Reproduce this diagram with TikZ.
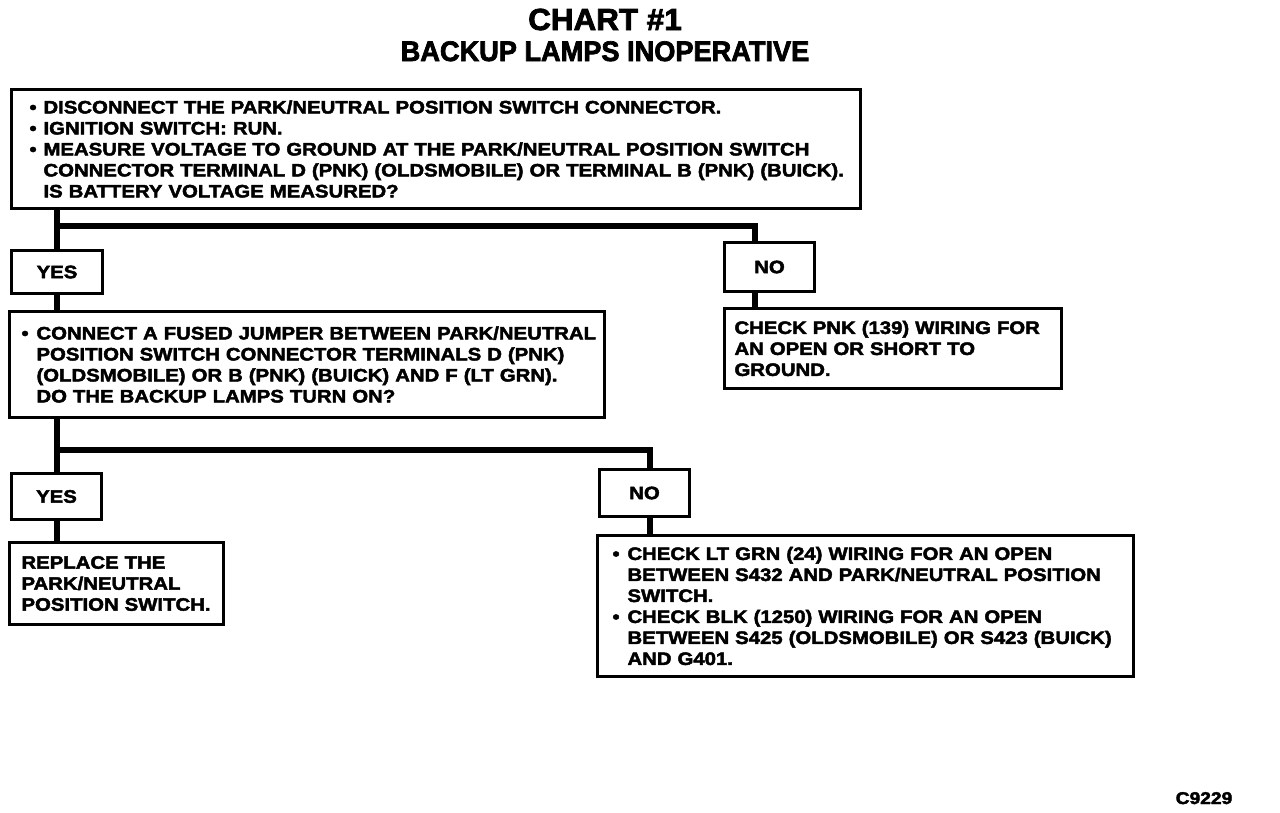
\documentclass[tikz,border=0pt]{standalone}
\usepackage{fontspec}
\setmainfont{Liberation Sans}
\newfontfamily\boxfam{Liberation Sans}[FakeStretch=1.13, FakeBold=2.5]
\newfontfamily\chartfam{Liberation Sans}[FakeStretch=1.03, FakeBold=2.5]
\newfontfamily\subfam{Liberation Sans}[FakeStretch=0.96, FakeBold=2.5]
\newcommand\boxfont{\boxfam\bfseries\fontsize{18}{21}\selectfont}
\newcommand\BulLine[2]{\makebox[#1][l]{•}\mbox{#2}}
\newcommand\IndLine[2]{\hspace*{#1}\mbox{#2}}
\tikzset{
  box/.style={draw, line width=3pt, rectangle, anchor=north west, align=left,
    inner ysep=0pt, font=\boxfont},
  ans/.style={draw, line width=3pt, rectangle, anchor=north west, inner sep=0pt,
    font=\boxfont},
  conn/.style={line width=6pt, line join=miter},
}
\begin{document}
\begin{tikzpicture}[x=1pt, y=-1pt]
\fill[white] (0,0) rectangle (1280,812);
\useasboundingbox (0,0) rectangle (1280,812);

% titles
\node[anchor=base, inner sep=0pt, font=\chartfam\bfseries\fontsize{30.5}{32}\selectfont] (title) at (605,30) {CHART \#1};
\node[anchor=base, inner sep=0pt, font=\subfam\bfseries\fontsize{28.3}{30}\selectfont] (subtitle) at (605,61) {BACKUP LAMPS INOPERATIVE};

% boxes
\node[box, minimum width=849pt, minimum height=119pt, inner xsep=18pt, text width=813pt] (box1) at (10,88) {%
\BulLine{14pt}{DISCONNECT THE PARK/NEUTRAL POSITION SWITCH CONNECTOR.}\\
\BulLine{14pt}{IGNITION SWITCH: RUN.}\\
\BulLine{14pt}{MEASURE VOLTAGE TO GROUND AT THE PARK/NEUTRAL POSITION SWITCH}\\
\IndLine{14pt}{CONNECTOR TERMINAL D (PNK) (OLDSMOBILE) OR TERMINAL B (PNK) (BUICK).}\\
\IndLine{14pt}{IS BATTERY VOLTAGE MEASURED?}};

\node[ans, minimum width=91pt, minimum height=43pt] (yes1) at (10,249) {};
\node[font=\boxfont, inner sep=0pt] (yes1t) at (yes1.center) {YES};
\node[ans, minimum width=90pt, minimum height=49pt] (no1) at (723,241) {};
\node[font=\boxfont, inner sep=0pt] (no1t) at (no1.center) {NO};

\node[box, minimum width=595pt, minimum height=106pt, inner xsep=12pt, text width=571pt] (box2) at (8,310) {%
\BulLine{15pt}{CONNECT A FUSED JUMPER BETWEEN PARK/NEUTRAL}\\
\IndLine{15pt}{POSITION SWITCH CONNECTOR TERMINALS D (PNK)}\\
\IndLine{15pt}{(OLDSMOBILE) OR B (PNK) (BUICK) AND F (LT GRN).}\\
\IndLine{15pt}{DO THE BACKUP LAMPS TURN ON?}};

\node[box, minimum width=337pt, minimum height=80pt, inner xsep=10pt, text width=317pt] (box3) at (723,307) {%
\mbox{CHECK PNK (139) WIRING FOR}\\
\mbox{AN OPEN OR SHORT TO}\\
\mbox{GROUND.}};

\node[ans, minimum width=90pt, minimum height=46pt] (yes2) at (10,472) {};
\node[font=\boxfont, inner sep=0pt] (yes2t) at (yes2.center) {YES};
\node[ans, minimum width=90pt, minimum height=47pt] (no2) at (598,468) {};
\node[font=\boxfont, inner sep=0pt] (no2t) at (no2.center) {NO};

\node[box, minimum width=214pt, minimum height=82pt, inner xsep=12pt, text width=190pt] (box4) at (8,541) {%
\mbox{REPLACE THE}\\
\mbox{PARK/NEUTRAL}\\
\mbox{POSITION SWITCH.}};

\node[box, minimum width=536pt, minimum height=141pt, inner xsep=15pt, text width=506pt] (box5) at (596,534) {%
\BulLine{15pt}{CHECK LT GRN (24) WIRING FOR AN OPEN}\\
\IndLine{15pt}{BETWEEN S432 AND PARK/NEUTRAL POSITION}\\
\IndLine{15pt}{SWITCH.}\\
\BulLine{15pt}{CHECK BLK (1250) WIRING FOR AN OPEN}\\
\IndLine{15pt}{BETWEEN S425 (OLDSMOBILE) OR S423 (BUICK)}\\
\IndLine{15pt}{AND G401.}};

\node[anchor=base, inner sep=0pt, font=\boxfam\bfseries\fontsize{17}{18}\selectfont] (code) at (1204,804) {C9229};

% connectors
\coordinate (j1) at (55.5,226);
\coordinate (j1r) at (755,226);
\draw[conn] (box1.south -| yes1.north) -- (yes1.north);
\draw[conn] (j1) -- (j1r) -- (j1r |- no1.north);
\draw[conn] (no1.south -| j1r) -- (box3.north -| j1r);
\draw[conn] (yes1.south) -- (box2.north -| yes1.south);

\coordinate (j2) at (55,450);
\coordinate (j2r) at (650,450);
\draw[conn] (box2.south -| yes2.north) -- (yes2.north);
\draw[conn] (j2) -- (j2r) -- (j2r |- no2.north);
\draw[conn] (yes2.south) -- (box4.north -| yes2.south);
\draw[conn] (no2.south -| j2r) -- (box5.north -| j2r);
\end{tikzpicture}
\end{document}
